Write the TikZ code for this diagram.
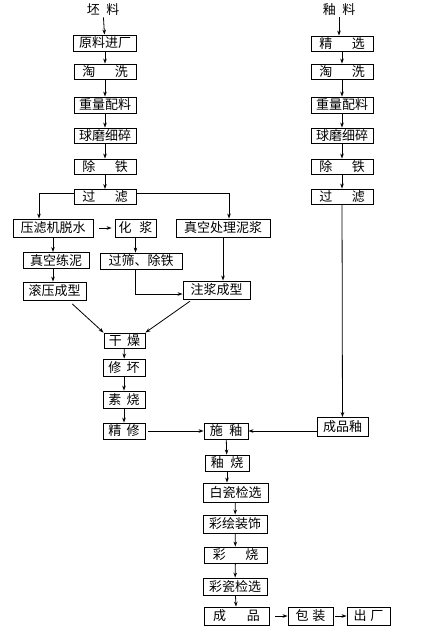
\documentclass[tikz,border=0pt]{standalone}
\usepackage{fontspec}
\setmainfont{Noto Sans CJK SC}
\usepackage{tikz}
\usetikzlibrary{arrows.meta,calc}
\tikzstyle{blk}=[draw, line width=0.9pt, inner sep=0pt, minimum height=16pt,
font=\fontsize{13}{14}\selectfont]
\tikzstyle{lbl}=[inner sep=1pt, font=\fontsize{13}{14}\selectfont]
\tikzstyle{flow}=[-{Stealth[length=5pt,width=3.6pt]}, line width=0.8pt]

\begin{document}
\begin{tikzpicture}[x=1pt,y=-1pt,flow]
\useasboundingbox (0,0) rectangle (439,631);
% body column
\node[lbl] (pi) at (103,10) {坯\hspace{0.5em}料};
\node[blk, minimum width=63pt] (y1) at (105,43) {原料进厂};
\node[blk, minimum width=62pt, minimum height=15pt] (y2) at (105,71.5) {淘\hspace{1.5em}洗};
\node[blk, minimum width=62pt] (y3) at (105,105) {重量配料};
\node[blk, minimum width=62pt, minimum height=15pt] (y4) at (105,135.5) {球磨细碎};
\node[blk, minimum width=62pt, minimum height=15pt] (y5) at (105,166.5) {除\hspace{1.5em}铁};
\node[blk, minimum width=62pt, minimum height=15pt] (y6) at (105,197) {过\hspace{1.5em}滤};
% glaze column
\node[lbl] (gl) at (339,10) {釉\hspace{0.5em}料};
\node[blk, minimum width=62pt, minimum height=15pt] (g1) at (342,43.5) {精\hspace{1.5em}选};
\node[blk, minimum width=62pt, minimum height=15pt] (g2) at (342,71.5) {淘\hspace{1.5em}洗};
\node[blk, minimum width=62pt] (g3) at (342,105) {重量配料};
\node[blk, minimum width=62pt, minimum height=15pt] (g4) at (342,135.5) {球磨细碎};
\node[blk, minimum width=62pt, minimum height=15pt] (g5) at (342,166.5) {除\hspace{1.5em}铁};
\node[blk, minimum width=62pt, minimum height=15pt] (g6) at (342,196.5) {过\hspace{1.5em}滤};
\node[blk, minimum width=51pt, minimum height=19pt] (gz) at (342.5,427) {成品釉};
% forming
\node[blk, minimum width=80pt, minimum height=18pt] (yf) at (53,228) {压滤机脱水};
\node[blk, minimum width=41pt, minimum height=18pt] (hj) at (135.5,228) {化\hspace{0.6em}浆};
\node[blk, minimum width=94pt, minimum height=18pt] (zk) at (223,228) {真空处理泥浆};
\node[blk, minimum width=66pt] (ln) at (56,260.5) {真空练泥};
\node[blk, minimum width=82pt] (sx) at (141,261) {过筛、除铁};
\node[blk, minimum width=63pt, minimum height=18pt] (gy) at (54.5,291) {滚压成型};
\node[blk, minimum width=67pt, minimum height=18pt] (zj) at (216.5,290) {注浆成型};
% firing
\node[blk, minimum width=41pt, minimum height=15pt] (gd) at (124.5,340.5) {干\hspace{0.4em}燥};
\node[blk, minimum width=42pt, minimum height=17pt] (xp) at (124,367.5) {修\hspace{0.4em}坏};
\node[blk, minimum width=42pt, minimum height=17pt] (ss) at (124,399.5) {素\hspace{0.4em}烧};
\node[blk, minimum width=42pt] (jx) at (124,431) {精\hspace{0.4em}修};
\node[blk, minimum width=44pt] (sy) at (226,431) {施\hspace{0.5em}釉};
\node[blk, minimum width=44pt] (ys) at (227,463) {釉\hspace{0.5em}烧};
\node[blk, minimum width=65pt, minimum height=19pt] (bc) at (235.5,492.5) {白瓷检选};
\node[blk, minimum width=64pt, minimum height=18pt] (ch) at (235,524) {彩绘装饰};
\node[blk, minimum width=63pt] (cs) at (235.5,555) {彩\hspace{1.5em}烧};
\node[blk, minimum width=64pt, minimum height=17pt] (cc) at (235,586.5) {彩瓷检选};
\node[blk, minimum width=65pt, minimum height=18pt] (cp) at (236.5,616) {成\hspace{1.6em}品};
\node[blk, minimum width=45pt, minimum height=18pt] (bz) at (310.5,616) {包\hspace{0.3em}装};
\node[blk, minimum width=43pt, minimum height=18pt] (cf) at (368.5,616) {出\hspace{0.3em}厂};

\draw (pi) -- (y1);
\draw (y1) -- (y2);
\draw (y2) -- (y3);
\draw (y3) -- (y4);
\draw (y4) -- (y5);
\draw (y5) -- (y6);
\draw (gl) -- (gl |- g1.north);
\draw (g1) -- (g2);
\draw (g2) -- (g3);
\draw (g3) -- (g4);
\draw (g4) -- (g5);
\draw (g5) -- (g6);
\draw (g6) -- (gz);
\draw ([yshift=4pt]y6.west) -| ([xshift=-14pt]yf.north);
\draw ([yshift=4pt]y6.east) -| ([xshift=6pt]zk.north);
\draw[shorten <=6pt, shorten >=3pt] (yf) -- (hj);
\draw (yf) -- (yf |- ln.north);
\draw (yf |- ln.south) -- (yf |- gy.north);
\draw (hj) -- (hj |- sx.north);
\draw (zk) -- (zk |- zj.north);
\draw (hj |- sx.south) |- ([yshift=-4pt]zj.west);
\draw[shorten <=5pt] ([xshift=14pt]gy.south) -- (gd.north west);
\draw[shorten <=3pt] ([xshift=-24pt]zj.south) -- (gd.north east);
\draw (gd) -- (xp);
\draw (xp) -- (ss);
\draw (ss) -- (jx);
\draw[shorten <=3pt] (jx) -- (sy);
\draw (gz.west |- sy) -- (sy);
\draw (sy) -- (ys);
\draw (ys) -- (ys |- bc.north);
\draw (bc) -- (ch);
\draw (ch) -- (cs);
\draw (cs) -- (cc);
\draw (cc) -- (cp);
\draw[shorten <=6pt] (cp) -- (bz);
\draw[shorten <=2pt] (bz) -- (cf);
\end{tikzpicture}
\end{document}
